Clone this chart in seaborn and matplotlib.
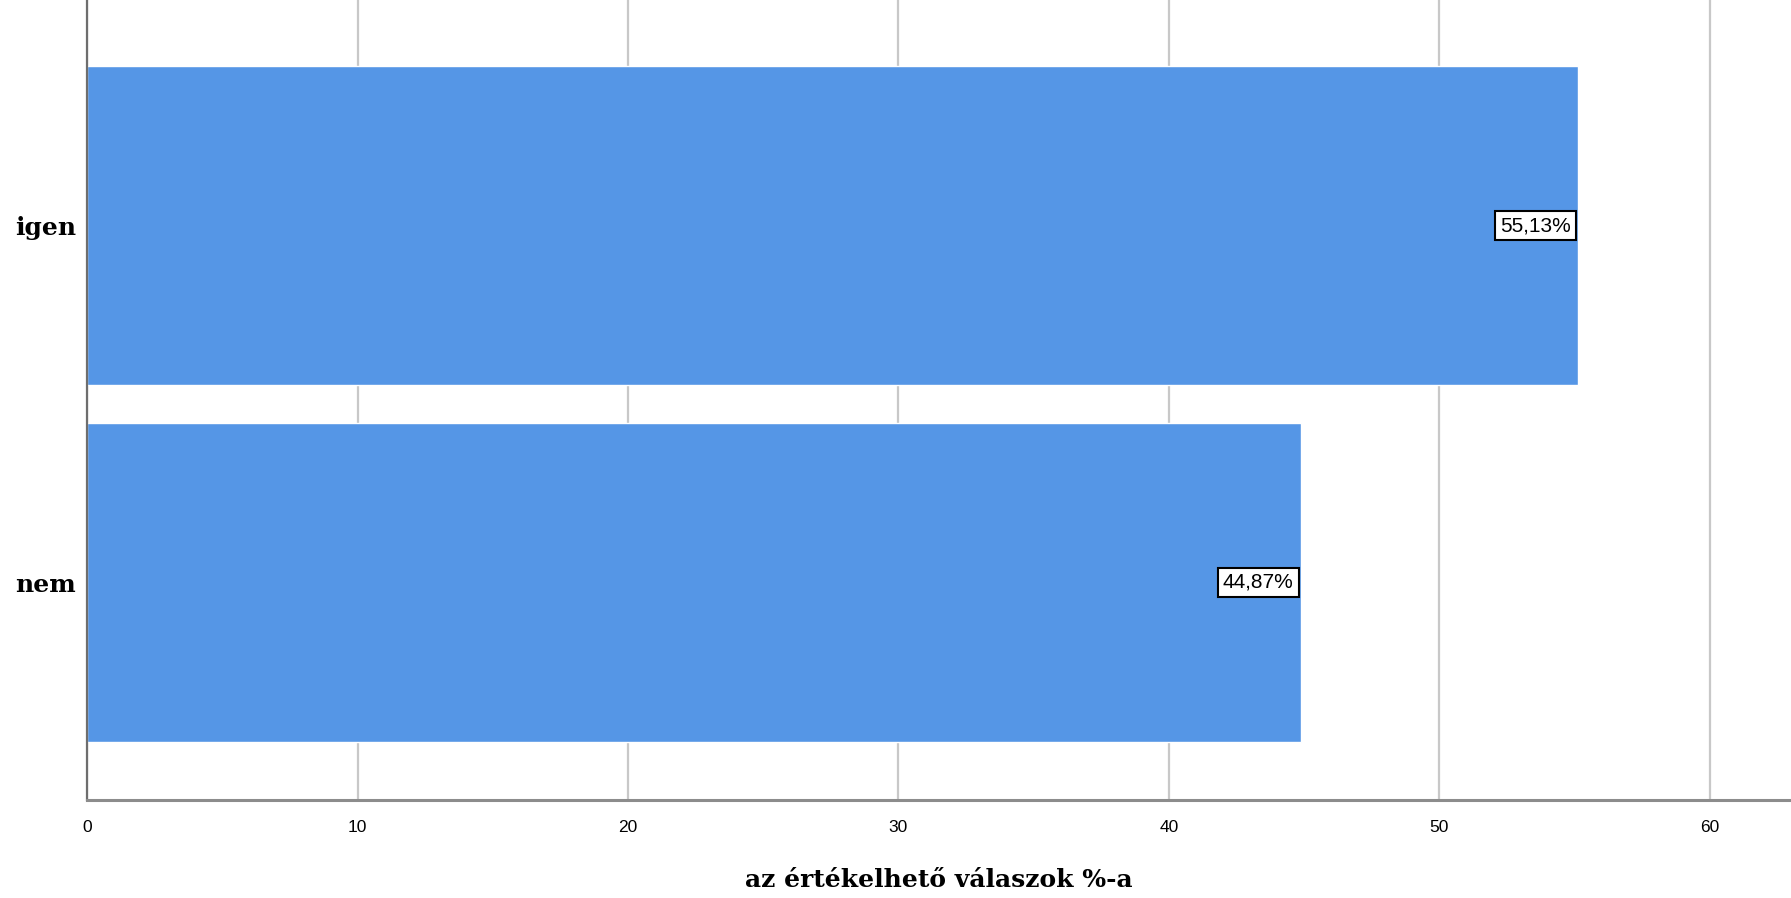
import matplotlib
matplotlib.use("Agg")
import matplotlib.pyplot as plt
import seaborn as sns
import pandas as pd

# data
categories = ["igen", "nem"]
values = [55.13, 44.87]
value_labels = ["55,13%", "44,87%"]
x_ticks = [0, 10, 20, 30, 40, 50, 60]

BAR_COLOR = "#5596e6"

df = pd.DataFrame({"answer": categories, "pct": values})

sns.set_style("white")
plt.rcParams["text.color"] = "black"
plt.rcParams["xtick.color"] = "black"
plt.rcParams["ytick.color"] = "black"
plt.rcParams["axes.labelcolor"] = "black"

fig = plt.figure(figsize=(17.91, 8.98), dpi=100)
ax = fig.add_axes([0.0486, 0.109, 0.9514, 0.891])

sns.barplot(data=df, x="pct", y="answer", orient="h", color=BAR_COLOR,
            saturation=1, width=0.896, ax=ax)

ax.set_xlim(0, 63.0)
ax.set_ylim(1.61, -0.632)
ax.set_xticks(x_ticks)
ax.set_xticklabels([str(t) for t in x_ticks], family="Liberation Sans", fontsize=12.5)
ax.tick_params(axis="x", length=0, pad=14)
ax.tick_params(axis="y", length=0, pad=8)
for lab in ax.get_yticklabels():
    lab.set_family("DejaVu Serif")
    lab.set_fontweight("bold")
    lab.set_fontsize(18)

ax.grid(axis="x", color="#c8c8c8", linewidth=1.6)
ax.set_axisbelow(True)
ax.set_ylabel("")
ax.set_xlabel("az értékelhető válaszok %-a", family="DejaVu Serif",
              fontweight="bold", fontsize=18, labelpad=24)

for side in ["top", "right"]:
    ax.spines[side].set_visible(False)
ax.spines["left"].set_color("#6e6e6e")
ax.spines["left"].set_linewidth(1.6)
ax.spines["bottom"].set_color("#8c8c8c")
ax.spines["bottom"].set_linewidth(2.2)

for i, (v, txt) in enumerate(zip(values, value_labels)):
    ax.annotate(txt, xy=(v, i), xytext=(-5, 0), textcoords="offset points",
                ha="right", va="center", family="Liberation Sans", fontsize=15,
                bbox=dict(boxstyle="square,pad=0.25", facecolor="white",
                          edgecolor="black", linewidth=1.5))

fig.savefig("out.png", dpi=100)
